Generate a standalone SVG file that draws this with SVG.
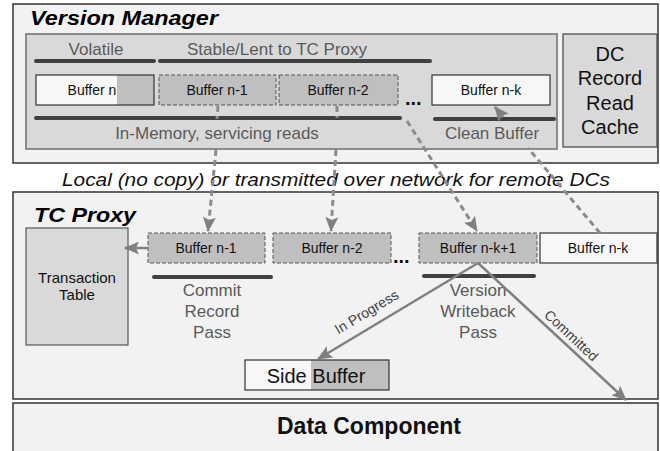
<svg xmlns="http://www.w3.org/2000/svg" width="660" height="451" viewBox="0 0 660 451">
<style>
text{font-family:"Liberation Sans",Arial,sans-serif}
.frame{fill:#f2f2f2;stroke:#333;stroke-width:1.5}
.inner{fill:#d9d9d9;stroke:#6e6e6e;stroke-width:1.5}
.buf{fill:#bfbfbf;stroke:#555;stroke-width:1;stroke-dasharray:4 2}
.wbuf{fill:#f7f7f7;stroke:#333;stroke-width:1.2}
.bar{stroke:#404040;stroke-width:4;stroke-linecap:round}
.lbl{fill:#595959;font-size:17px;text-anchor:middle}
.btxt{font-size:14px;fill:#111;text-anchor:middle}
.title{font-size:20px;font-weight:bold;font-style:italic;fill:#000}
.dots{font-size:20px;font-weight:bold;fill:#111}
.dash{stroke:#8c8c8c;stroke-width:3;stroke-dasharray:6 4;fill:none;marker-end:url(#ah)}
.sol{stroke:#808080;stroke-width:2.5;fill:none;marker-end:url(#ah)}
.alab{font-size:14px;fill:#404040;text-anchor:middle}
</style>
<defs>
<marker id="ah" markerUnits="userSpaceOnUse" markerWidth="15" markerHeight="13" refX="14" refY="6.5" orient="auto">
<path d="M0,0 L15,6.5 L0,13 L3,6.5 z" fill="#808080"/>
</marker>
</defs>
<rect x="0" y="0" width="660" height="451" fill="#fff"/>

<g id="version-manager">
<rect class="frame" x="13" y="4" width="645" height="159"/>
<text class="title" x="30" y="25" textLength="188" lengthAdjust="spacingAndGlyphs">Version Manager</text>
<rect class="inner" x="26" y="34" width="531" height="115"/>
<text class="lbl" x="96" y="55">Volatile</text>
<text class="lbl" x="277" y="55">Stable/Lent to TC Proxy</text>
<line class="bar" x1="36" y1="61" x2="154" y2="61"/>
<line class="bar" x1="160" y1="61" x2="430" y2="61"/>
<line class="bar" x1="36" y1="118" x2="400" y2="118"/>
<line class="bar" x1="435" y1="119" x2="554" y2="119"/>
<text class="lbl" x="217" y="139">In-Memory, servicing reads</text>
<text class="lbl" x="492" y="139">Clean Buffer</text>
</g>

<g id="vm-buffer-n">
<rect x="36" y="75" width="118" height="30" fill="#f7f7f7"/>
<rect x="117" y="75" width="37" height="30" fill="#bfbfbf"/>
<rect x="36" y="75" width="118" height="30" fill="none" stroke="#333" stroke-width="1.2"/>
<text class="btxt" x="92" y="95">Buffer n</text>
</g>
<g id="vm-buffer-n-1">
<rect class="buf" x="159" y="75" width="117" height="30"/>
<text class="btxt" x="217" y="95">Buffer n-1</text>
</g>
<g id="vm-buffer-n-2">
<rect class="buf" x="279" y="75" width="119" height="30"/>
<text class="btxt" x="338" y="95">Buffer n-2</text>
</g>
<text class="dots" x="405" y="105">...</text>
<g id="vm-buffer-n-k">
<rect class="wbuf" x="432" y="75" width="118" height="30"/>
<text class="btxt" x="491" y="95">Buffer n-k</text>
</g>

<g id="dc-cache">
<rect x="563" y="34" width="94" height="113" fill="#d9d9d9" stroke="#444" stroke-width="1.2"/>
<text x="610" y="61" font-size="20" text-anchor="middle" fill="#111">DC</text>
<text x="610" y="85" font-size="20" text-anchor="middle" fill="#111">Record</text>
<text x="610" y="110" font-size="20" text-anchor="middle" fill="#111">Read</text>
<text x="610" y="134" font-size="20" text-anchor="middle" fill="#111">Cache</text>
</g>

<text x="62" y="186" font-size="18" font-style="italic" fill="#111" textLength="548" lengthAdjust="spacingAndGlyphs">Local (no copy) or transmitted over network for remote DCs</text>

<g id="tc-proxy">
<rect class="frame" x="13" y="192" width="645" height="207"/>
<text class="title" x="34" y="222" textLength="102" lengthAdjust="spacingAndGlyphs">TC Proxy</text>
<line class="bar" x1="154" y1="277" x2="271" y2="277"/>
<line class="bar" x1="424" y1="276" x2="534" y2="276"/>
<text class="lbl" x="212" y="296">Commit</text>
<text class="lbl" x="212" y="317">Record</text>
<text class="lbl" x="212" y="338">Pass</text>
<text class="lbl" x="478" y="296">Version</text>
<text class="lbl" x="478" y="317">Writeback</text>
<text class="lbl" x="478" y="338">Pass</text>
</g>

<g id="transaction-table">
<rect x="26" y="228" width="102" height="117" fill="#d9d9d9" stroke="#555" stroke-width="1.2"/>
<text x="77" y="283" font-size="15" text-anchor="middle" fill="#111">Transaction</text>
<text x="77" y="300" font-size="15" text-anchor="middle" fill="#111">Table</text>
</g>
<g id="tc-buffer-n-1">
<rect class="buf" x="148" y="233" width="117" height="30"/>
<text class="btxt" x="206" y="253" font-size="14.5">Buffer n-1</text>
</g>
<g id="tc-buffer-n-2">
<rect class="buf" x="273" y="233" width="118" height="30"/>
<text class="btxt" x="332" y="253" font-size="14.5">Buffer n-2</text>
</g>
<text class="dots" x="393" y="263">...</text>
<g id="tc-buffer-n-k1">
<rect class="buf" x="419" y="233" width="118" height="30"/>
<text class="btxt" x="478" y="253" font-size="14.5">Buffer n-k+1</text>
</g>
<g id="tc-buffer-n-k">
<rect class="wbuf" x="540" y="233" width="117" height="30"/>
<text class="btxt" x="598" y="253" font-size="14.5">Buffer n-k</text>
</g>

<g id="side-buffer">
<rect x="245" y="360" width="144" height="30" fill="#f7f7f7"/>
<rect x="311" y="360" width="78" height="30" fill="#bfbfbf"/>
<rect x="245" y="360" width="144" height="30" fill="none" stroke="#333" stroke-width="1.2"/>
<text x="316" y="383" font-size="20" text-anchor="middle" fill="#111">Side Buffer</text>
</g>

<g id="data-component">
<rect class="frame" x="13" y="403" width="645" height="60"/>
<text x="369" y="434" font-size="23" font-weight="bold" text-anchor="middle" fill="#111">Data Component</text>
</g>

<g id="connectors">
<path class="dash" d="M218,106 L217,119 M216,150 L208,231"/>
<path class="dash" d="M337,106 L337,118 M336,150 L331,231"/>
<path class="dash" d="M407,121 L477,231"/>
<path class="dash" d="M600,233 L528,148 M503,117 L495,107"/>
<path class="sol" d="M148,248 L125,248"/>
<path class="sol" d="M478,263 L318,359"/>
<path class="sol" d="M478,263 L626,400"/>
<text class="alab" transform="translate(369,316) rotate(-31)">In Progress</text>
<text class="alab" transform="translate(568,339) rotate(43)">Committed</text>
</g>
</svg>
